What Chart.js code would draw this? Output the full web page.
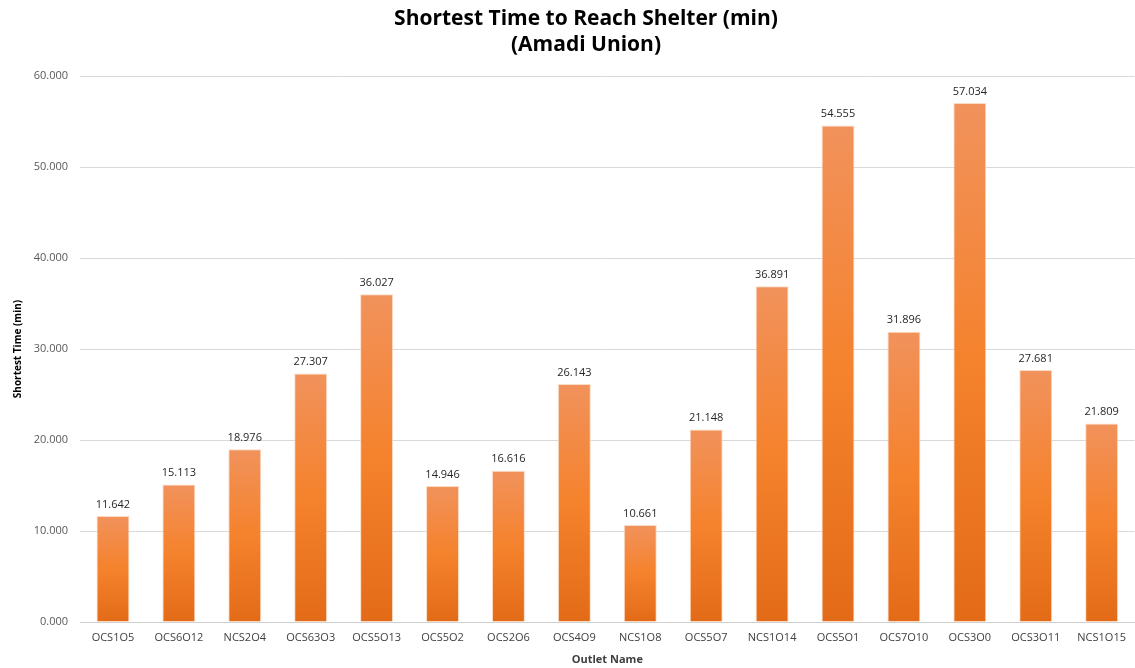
<!DOCTYPE html>
<html><head><meta charset="utf-8">
<script src="https://cdn.jsdelivr.net/npm/chart.js@4/dist/chart.umd.min.js"></script>
<style>html,body{margin:0;padding:0;background:#fff}#wrap{width:1135px;height:668px}</style>
</head><body><div id="wrap"><canvas id="c" width="1135" height="668"></canvas></div>
<script>
const categories = ["OCS1O5","OCS6O12","NCS2O4","OCS63O3","OCS5O13","OCS5O2","OCS2O6","OCS4O9","NCS1O8","OCS5O7","NCS1O14","OCS5O1","OCS7O10","OCS3O0","OCS3O11","NCS1O15"];
const values = [11.642,15.113,18.976,27.307,36.027,14.946,16.616,26.143,10.661,21.148,36.891,54.555,31.896,57.034,27.681,21.809];
const yTicks = [0,10,20,30,40,50,60];
const titleLines = ["Shortest Time to Reach Shelter (min)","(Amadi Union)"];

const FONT = "'Open Sans', 'Noto Sans', sans-serif";

function barGradient(ctx){
  const chart = ctx.chart;
  if (!chart.chartArea || ctx.type !== 'data') return '#F5822D';
  const y = chart.scales.y;
  const top = y.getPixelForValue(ctx.raw);
  const bot = y.getPixelForValue(0);
  const g = chart.ctx.createLinearGradient(0, top, 0, bot);
  g.addColorStop(0, '#F1925C');
  g.addColorStop(0.5, '#F5822C');
  g.addColorStop(1, '#E36B18');
  return g;
}

const labelsPlugin = {
  id: 'valueLabels',
  afterDatasetsDraw(chart){
    const c = chart.ctx;
    const meta = chart.getDatasetMeta(0);
    c.save();
    c.font = "11px " + FONT;
    c.fillStyle = '#262626';
    c.textAlign = 'center';
    c.textBaseline = 'bottom';
    meta.data.forEach((bar, i) => {
      c.fillText(values[i].toFixed(3), bar.x, bar.y - 6);
    });
    c.restore();
  }
};

const titlePlugin = {
  id: 'customTitle',
  afterDraw(chart){
    const c = chart.ctx;
    c.save();
    c.font = "bold 21px " + FONT;
    c.fillStyle = '#000';
    c.textAlign = 'center';
    c.textBaseline = 'middle';
    c.fillText(titleLines[0], 586, 19);
    c.fillText(titleLines[1], 586, 45);
    c.restore();
  }
};

new Chart(document.getElementById('c'), {
  type: 'bar',
  data: {
    labels: categories,
    datasets: [{
      data: values,
      backgroundColor: barGradient,
      borderColor: 'rgba(252,215,190,0.9)',
      borderWidth: 1,
      categoryPercentage: 1.0,
      barPercentage: 0.5
    }]
  },
  options: {
    responsive: false,
    animation: false,
    devicePixelRatio: 1,
    layout: { padding: { top: 76, right: 0, left: 12, bottom: 2 } },
    plugins: { legend: { display: false }, title: { display: false }, tooltip: { enabled: false } },
    scales: {
      x: {
        grid: { display: false, drawTicks: false },
        border: { display: true, color: '#D0D0D0', width: 1 },
        ticks: { color: '#404040', font: { size: 11, family: FONT }, padding: 9, maxRotation: 0, autoSkip: false },
        title: { display: true, text: 'Outlet Name', color: '#404040', font: { size: 11, weight: 'bold', family: FONT }, padding: { top: 3, bottom: 0 } },
        afterFit(s){ s.height = 44; }
      },
      y: {
        min: 0, max: 60,
        afterBuildTicks(s){ s.ticks = yTicks.map(v => ({ value: v })); },
        grid: { color: '#D9D9D9', drawTicks: false },
        border: { display: false },
        ticks: { color: '#595959', font: { size: 11, family: FONT }, padding: 12, callback: v => Number(v).toFixed(3) },
        title: { display: true, text: 'Shortest Time (min)', color: '#000', font: { size: 10, weight: 'bold', family: FONT }, padding: { top: 0, bottom: 4 } },
        afterFit(s){ s.width = 68; }
      }
    }
  },
  plugins: [labelsPlugin, titlePlugin]
});
</script></body></html>
